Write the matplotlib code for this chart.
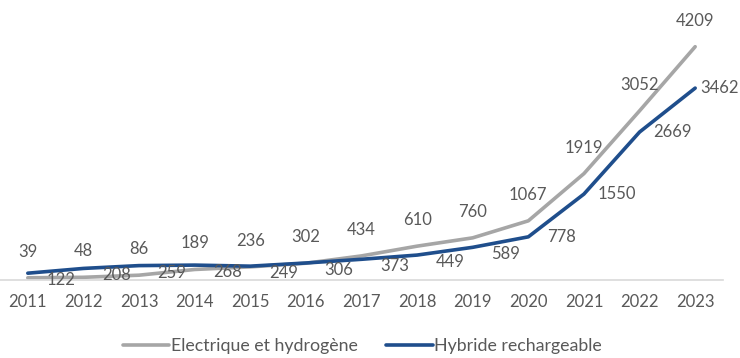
import matplotlib
matplotlib.use("Agg")
import matplotlib.pyplot as plt

years = ["2011", "2012", "2013", "2014", "2015", "2016", "2017",
         "2018", "2019", "2020", "2021", "2022", "2023"]
electrique = [39, 48, 86, 189, 236, 302, 434, 610, 760, 1067, 1919, 3052, 4209]
hybride = [122, 208, 259, 268, 249, 306, 373, 449, 589, 778, 1550, 2669, 3462]

series_names = ["Electrique et hydrogène", "Hybride rechargeable"]
gray = "#a6a6a6"
blue = "#1f4e8c"
txt = "#595959"

plt.rcParams["font.family"] = ["Lato", "DejaVu Sans"]

fig = plt.figure(figsize=(7.4, 3.58), dpi=100)
ax = fig.add_axes([0.0, 0.218, 0.977, 0.774])

x = list(range(len(years)))
ax.plot(x, electrique, color=gray, lw=2.6, solid_capstyle="round", label=series_names[0])
ax.plot(x, hybride, color=blue, lw=2.6, solid_capstyle="round", label=series_names[1])

for xi, v in zip(x, electrique):
    ax.annotate(str(v), (xi, v), xytext=(0, 26), textcoords="offset pixels",
                ha="center", va="center", fontsize=12, color=txt)
n = len(hybride)
for i, (xi, v) in enumerate(zip(x, hybride)):
    if i == n - 1:
        ax.annotate(str(v), (xi, v), xytext=(5, 0), textcoords="offset pixels",
                    ha="left", va="center", fontsize=12, color=txt)
        continue
    dy = -7 if i < 9 else 0
    ax.annotate(str(v), (xi, v), xytext=(33, dy), textcoords="offset pixels",
                ha="center", va="center", fontsize=12, color=txt)

ax.set_xlim(-0.5, 12.5)
ax.set_ylim(0, 5000)
ax.set_xticks(x)
ax.set_xticklabels(years, fontsize=12, color=txt)
ax.tick_params(axis="x", length=0, pad=10)
ax.set_yticks([])
for s in ["top", "left", "right"]:
    ax.spines[s].set_visible(False)
ax.spines["bottom"].set_color("#d9d9d9")
ax.spines["bottom"].set_linewidth(1.2)

leg = fig.legend(loc="center", bbox_to_anchor=(0.49, 0.033), ncol=2, frameon=False,
                 fontsize=12.8, handlelength=2.6, handletextpad=0.1, columnspacing=1.6)
for t in leg.get_texts():
    t.set_color(txt)

fig.savefig("out.png", dpi=100, facecolor="white")
